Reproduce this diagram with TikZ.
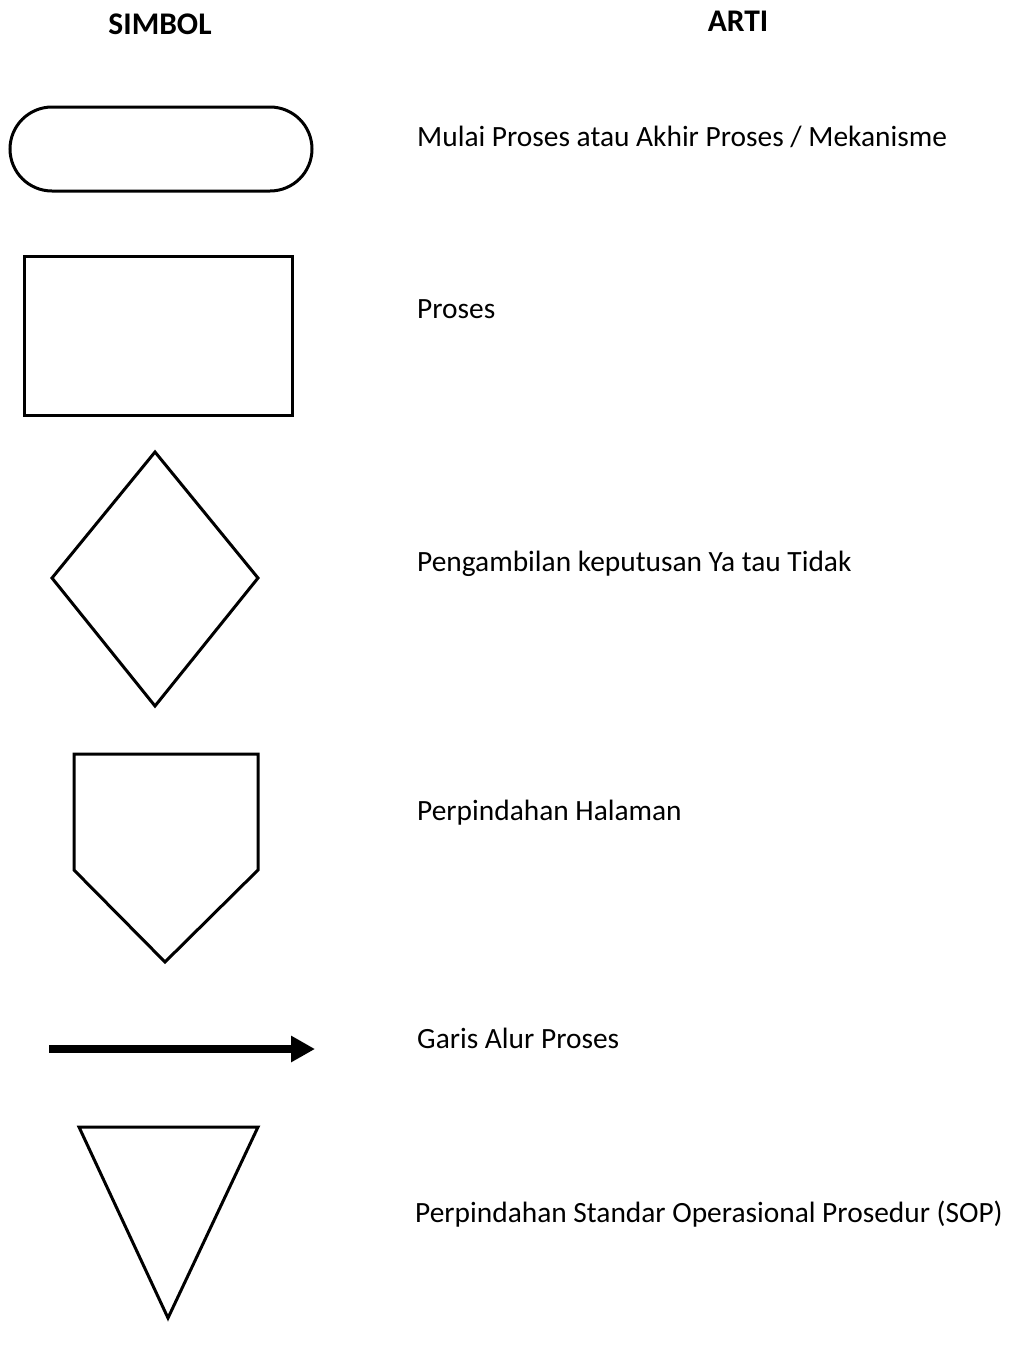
\documentclass[tikz,border=0pt]{standalone}
\usepackage{fontspec}
\setmainfont{Carlito}
\usetikzlibrary{arrows.meta}
\begin{document}
\begin{tikzpicture}[x=1pt,y=-1pt,
  sym/.style={draw=black,line width=3pt,line join=miter},
  desc/.style={anchor=base west,inner sep=0pt,font=\fontsize{29.4}{34}\selectfont},
  head/.style={anchor=base,inner sep=0pt,font=\fontsize{31.5}{36}\selectfont\bfseries}]
\useasboundingbox[fill=white] (0,0) rectangle (1009,1345);

% column headings
\node[head] (hsym) at (160,34) {SIMBOL};
\node[head] (hart) at (738,31) {ARTI};

% terminator
\draw[sym,rounded corners=42pt] (10,107) rectangle (312,191);
\node[desc] (t1) at (417,146) {Mulai Proses atau Akhir Proses / Mekanisme};

% process
\draw[sym] (24,256) rectangle (292,415);
\node[desc] (t2) at (417,318) {Proses};

% decision
\draw[sym] (155,452) -- (258,578) -- (155,706) -- (52,578) -- cycle;
\node[desc] (t3) at (417,571) {Pengambilan keputusan Ya tau Tidak};

% off-page connector
\draw[sym] (74,754) -- (258,754) -- (258,870) -- (165,962) -- (74,870) -- cycle;
\node[desc] (t4) at (417,820) {Perpindahan Halaman};

% flow line
\coordinate (fa) at (49,1049);
\coordinate (fb) at (315,1049);
\draw[line width=8pt,-{Triangle[length=24pt,width=25pt]}] (fa) -- (fb);
\node[desc] (t5) at (417,1048) {Garis Alur Proses};

% SOP transfer
\draw[sym] (79,1127) -- (258,1127) -- (168,1318) -- cycle;
\node[desc] (t6) at (415,1222) {Perpindahan Standar Operasional Prosedur (SOP)};
\end{tikzpicture}
\end{document}
